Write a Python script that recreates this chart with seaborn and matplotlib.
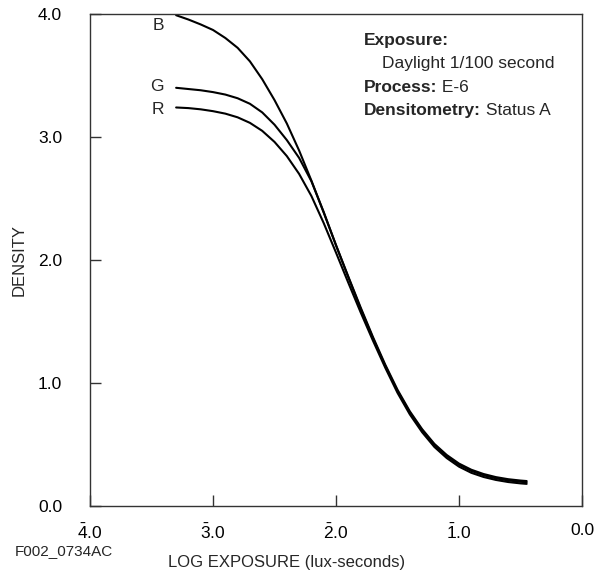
import pandas as pd
import numpy as np
import seaborn as sns
import matplotlib.pyplot as plt

# log exposure, densities per layer
log_exposure = [-3.3, -3.2, -3.1, -3.0, -2.9, -2.8, -2.7, -2.6, -2.5, -2.4, -2.3, -2.2, -2.1, -2.0,
                -1.9, -1.8, -1.7, -1.6, -1.5, -1.4, -1.3, -1.2, -1.1, -1.0, -0.9, -0.8, -0.7, -0.6,
                -0.5, -0.45]
density_b = [3.99, 3.955, 3.915, 3.87, 3.805, 3.725, 3.615, 3.47, 3.30, 3.11, 2.89, 2.645, 2.385,
             2.12, 1.865, 1.615, 1.375, 1.15, 0.945, 0.77, 0.625, 0.505, 0.415, 0.345, 0.295, 0.26,
             0.235, 0.218, 0.207, 0.203]
density_g = [3.40, 3.39, 3.38, 3.365, 3.345, 3.315, 3.27, 3.20, 3.10, 2.975, 2.83, 2.64, 2.39,
             2.12, 1.86, 1.605, 1.365, 1.14, 0.935, 0.76, 0.615, 0.495, 0.405, 0.335, 0.285, 0.25,
             0.225, 0.208, 0.197, 0.193]
density_r = [3.24, 3.235, 3.225, 3.21, 3.19, 3.16, 3.115, 3.05, 2.96, 2.845, 2.70, 2.52, 2.30,
             2.06, 1.815, 1.575, 1.345, 1.125, 0.92, 0.745, 0.60, 0.48, 0.39, 0.32, 0.27, 0.236,
             0.212, 0.195, 0.184, 0.18]
layers = ["B", "G", "R"]
label_pos = [3.91, 3.41, 3.22]

x_ticks = [-4, -3, -2, -1, 0]
x_ticklabels = [r"$\bar{\mathrm{4}}$.0", r"$\bar{\mathrm{3}}$.0", r"$\bar{\mathrm{2}}$.0",
                r"$\bar{\mathrm{1}}$.0", "0.0"]
y_ticks = [0, 1, 2, 3, 4]
y_ticklabels = ["0.0", "1.0", "2.0", "3.0", "4.0"]

df = pd.DataFrame({
    "logE": log_exposure * 3,
    "density": density_b + density_g + density_r,
    "layer": [l for l in layers for _ in log_exposure],
})

sns.set_style("ticks")
plt.rcParams["font.family"] = ["Liberation Sans", "DejaVu Sans"]
plt.rcParams["mathtext.fontset"] = "custom"
plt.rcParams["mathtext.rm"] = "Liberation Sans"

fig = plt.figure(figsize=(6.05, 5.76), dpi=100)
ax = fig.add_axes([0.1488, 0.1215, 0.8132, 0.8542])

sns.lineplot(data=df, x="logE", y="density", hue="layer", palette=["black"] * 3,
             linewidth=1.5, legend=False, ax=ax, sort=False)

for name, yv in zip(layers, label_pos):
    ax.text(-3.4, yv, name, ha="right", va="center", fontsize=12.5)

ax.set_xlim(-4, 0)
ax.set_ylim(0, 4)
ax.set_xticks(x_ticks)
ax.set_xticklabels(x_ticklabels)
ax.set_yticks(y_ticks)
ax.set_yticklabels(y_ticklabels)
ax.tick_params(direction="in", length=8, width=1, colors="#333333", labelcolor="black",
               labelsize=12.5)
ax.tick_params(axis="y", pad=20)
ax.tick_params(axis="x", pad=12)
for s in ax.spines.values():
    s.set_color("#333333")
    s.set_linewidth(1)

ax.set_xlabel("LOG EXPOSURE (lux-seconds)", fontsize=12)
ax.xaxis.set_label_coords(0.40, -0.1)
ax.set_ylabel("DENSITY", fontsize=12, labelpad=8)

# exposure notes
fs = 12.5
t1 = ax.text(0.557, 0.947, "Exposure:", transform=ax.transAxes, fontsize=fs,
             fontweight="bold", va="center")
ax.text(0.593, 0.899, "Daylight 1/100 second", transform=ax.transAxes, fontsize=fs, va="center")
t2 = ax.text(0.557, 0.851, "Process:", transform=ax.transAxes, fontsize=fs,
             fontweight="bold", va="center")
ax.annotate(" E-6", xy=(1, 0), xycoords=t2, va="bottom", fontsize=fs)
t3 = ax.text(0.557, 0.803, "Densitometry:", transform=ax.transAxes, fontsize=fs,
             fontweight="bold", va="center")
ax.annotate(" Status A", xy=(1, 0), xycoords=t3, va="bottom", fontsize=fs)

fig.text(0.025, 0.0434, "F002_0734AC", fontsize=11, va="center")

fig.savefig("out.png", dpi=100)
